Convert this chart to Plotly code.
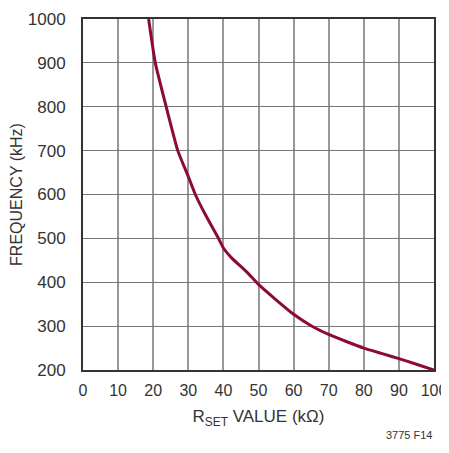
import plotly.graph_objects as go

# RSET (kOhm) vs switching frequency (kHz)
rset_kohm = [18.7, 20.6, 23.7, 27.0, 30.0, 32.0, 35.0, 38.6, 40.0, 42.4, 46.7,
             50.0, 55.0, 60.0, 65.0, 70.0, 75.0, 80.0, 85.0, 90.0, 95.0, 100.0]
freq_khz = [1000, 900, 800, 700, 641, 600, 552, 500, 478, 455, 423,
            395, 360, 327, 301, 281, 265, 250, 238, 226, 213, 200]

x_ticks = list(range(0, 101, 10))
y_ticks = list(range(200, 1001, 100))

font = "Liberation Sans, Arial, sans-serif"

fig = go.Figure()
fig.add_trace(go.Scatter(x=rset_kohm, y=freq_khz, mode="lines",
                         line=dict(color="#8c0b31", width=3, shape="spline", smoothing=0.5),
                         showlegend=False))

# the page body adds an 8px margin; keep the figure small enough to avoid scrollbars
fig.update_layout(
    width=441, height=437,
    margin=dict(l=75, r=15, t=11, b=75),
    plot_bgcolor="white", paper_bgcolor="white",
    font=dict(family=font, size=17, color="#333"),
    xaxis=dict(range=[0, 100], tickvals=x_ticks, showgrid=True,
               gridcolor="#999", gridwidth=1.5,
               showline=True, linecolor="#333", linewidth=2, mirror=True, ticks="", zeroline=False,
               automargin=False, ticklabelstandoff=5, tickfont=dict(size=16),
               ticklabeloverflow="allow",
               title=dict(text="R<sub>SET</sub> VALUE (kΩ)", font=dict(size=17), standoff=12)),
    yaxis=dict(range=[200, 1000], tickvals=y_ticks, showgrid=True, gridcolor="#777", gridwidth=1.2,
               showline=True, linecolor="#333", linewidth=2, mirror=True, ticks="", zeroline=False,
               automargin=False, ticklabelstandoff=12,
               title=dict(text="FREQUENCY (kHz)", font=dict(size=16), standoff=3)),
    annotations=[dict(text="3775 F14", x=1, y=-0.185, xref="paper", yref="paper",
                      xanchor="right", yanchor="middle", showarrow=False,
                      font=dict(size=11, family=font, color="#333"))],
)

fig.write_html("out.html")
